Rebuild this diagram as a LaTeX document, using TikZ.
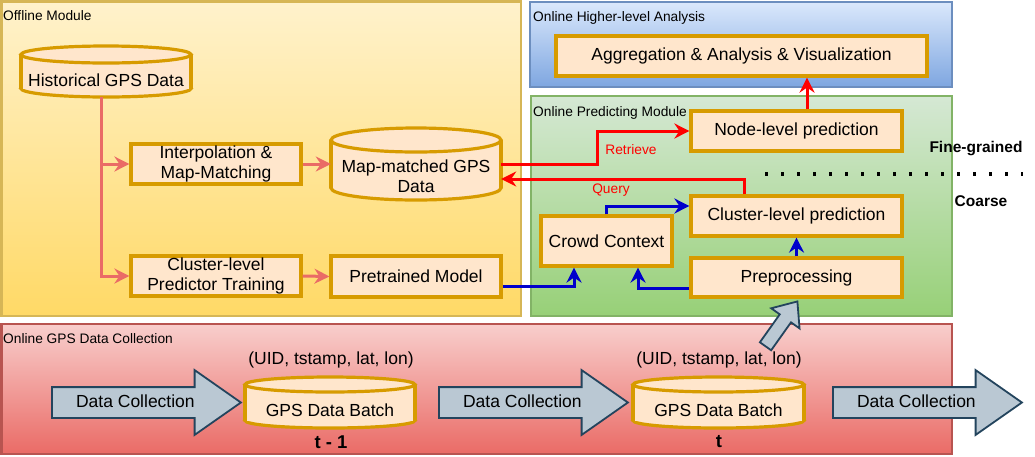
\documentclass[tikz,border=0pt]{standalone}
\usepackage{fontspec}
\setmainfont{Liberation Sans}
\usetikzlibrary{arrows.meta, shapes.arrows, positioning, calc}
\definecolor{offTop}{HTML}{FFF2CC}
\definecolor{offBot}{HTML}{FFD966}
\definecolor{offLine}{HTML}{D6B656}
\definecolor{anaTop}{HTML}{DAE8FC}
\definecolor{anaBot}{HTML}{7EA6E0}
\definecolor{anaLine}{HTML}{6C8EBF}
\definecolor{preTop}{HTML}{D5E8D4}
\definecolor{preBot}{HTML}{97D077}
\definecolor{preLine}{HTML}{82B366}
\definecolor{colTop}{HTML}{F8CECC}
\definecolor{colBot}{HTML}{EA6B66}
\definecolor{colLine}{HTML}{B85450}
\definecolor{nodeFill}{HTML}{FFE6CC}
\definecolor{nodeLine}{HTML}{D79B00}
\definecolor{arrFill}{HTML}{BAC8D3}
\definecolor{arrLine}{HTML}{23445D}
\definecolor{offArr}{HTML}{EA6B66}
\definecolor{qRed}{HTML}{FF0000}
\definecolor{qBlue}{HTML}{0000CC}
\newcommand{\bigfs}{\fontsize{17.5pt}{20pt}\selectfont}
\newcommand{\smallfs}{\fontsize{13.75pt}{16pt}\selectfont}
\tikzset{
  module/.style     = {line width=2.7pt},
  modlbl/.style     = {font=\smallfs, anchor=base west, inner sep=0pt},
  proc/.style       = {draw=nodeLine, fill=nodeFill, line width=3.2pt, align=center,
                       font=\bigfs, inner sep=0pt},
  dbcap/.style      = {draw=nodeLine, fill=nodeFill, line width=3.2pt},
  dbside/.style     = {draw=nodeLine, line width=3.2pt},
  dbbox/.style      = {rectangle, inner sep=0pt},
  dbtxt/.style      = {align=center, font=\bigfs, inner sep=0pt},
  tip/.style        = {-{Stealth[length=15pt, width=15pt, inset=5pt]}},
  offArrow/.style   = {tip, offArr, line width=3pt},
  redArrow/.style   = {tip, qRed, line width=3pt},
  blueArrow/.style  = {tip, qBlue, line width=3pt},
  flowlbl/.style    = {font=\smallfs, qRed},
  gradelbl/.style   = {font=\fontsize{15.5pt}{18pt}\selectfont\bfseries},
  gradeline/.style  = {line width=3.2pt, dash pattern=on 3.2pt off 12.8pt},
  dcarrow/.style    = {single arrow, draw=arrLine, fill=arrFill, line width=1.8pt,
                       single arrow head extend=17pt, single arrow tip angle=70,
                       minimum height=189pt, text height=12.5pt, text depth=3.5pt,
                       inner ysep=6.5pt, inner xsep=4pt, font=\bigfs, anchor=tail},
  batchlbl/.style   = {font=\bigfs},
  steplbl/.style    = {font=\fontsize{18.5pt}{20pt}\selectfont\bfseries},
}
% cylinder: name, centre x, centre y, width, height, cap radius, text
\newcommand{\gpsdb}[7]{%
  \pgfmathsetmacro\dbw{#4/2}%
  \pgfmathsetmacro\dbh{#5/2-#6}%
  \path[dbcap] (#2,#3) ++(0,\dbh) ellipse ({\dbw} and #6);
  \fill[nodeFill] (#2,#3) ++(-\dbw,-\dbh) rectangle ++({2*\dbw},{2*\dbh});
  \draw[dbside] (#2,#3) ++(-\dbw,-\dbh) -- ++(0,{2*\dbh})
                (#2,#3) ++(\dbw,-\dbh) -- ++(0,{2*\dbh});
  \path[dbcap] (#2,#3) ++(0,-\dbh) ellipse ({\dbw} and #6);
  \node[dbbox, minimum width=#4, minimum height=#5] (#1) at (#2,#3) {};
  \node[dbtxt] (#1-txt) at ([yshift=-#6pt]#1.center) {#7};
}

\begin{document}
\begin{tikzpicture}[x=1pt, y=-1pt]
  \useasboundingbox (0,0) rectangle (1035,456);

  % modules
  \draw[module, draw=offLine, top color=offTop, bottom color=offBot] (1.5,1.5) rectangle (521,316);
  \draw[module, draw=anaLine, top color=anaTop, bottom color=anaBot] (530,2) rectangle (952,87);
  \draw[module, draw=preLine, top color=preTop, bottom color=preBot] (531,96) rectangle (952,316);
  \draw[module, draw=colLine, top color=colTop, bottom color=colBot] (1.5,324) rectangle (952,454);
  \node[modlbl] (offLbl) at (3,20) {Offline Module};
  \node[modlbl] (anaLbl) at (533,21) {Online Higher-level Analysis};
  \node[modlbl] (preLbl) at (533,116) {Online Predicting Module};
  \node[modlbl] (colLbl) at (3,343) {Online GPS Data Collection};

  % offline
  \gpsdb{hist}{106}{71.5}{170}{51}{8.5}{Historical GPS Data}
  \node[proc, minimum width=170, minimum height=40] (interp) at (216,164) {Interpolation \&\\Map-Matching};
  \gpsdb{mm}{416}{164}{170}{72}{12}{Map-matched GPS\\Data}
  \node[proc, minimum width=170, minimum height=40] (train) at (216,276) {Cluster-level\\Predictor Training};
  \node[proc, minimum width=170, minimum height=41] (pm) at (416,276.5) {Pretrained Model};

  \draw[offArrow] ([xshift=-5pt]hist.south) |- (interp.west);
  \draw[offArrow] ([xshift=-5pt]hist.south) |- (train.west);
  \draw[offArrow] (interp.east) -- (mm.west);
  \draw[offArrow] (train.east) -- (pm.west);

  % online
  \node[proc, minimum width=371, minimum height=40] (agg) at (741.5,56) {Aggregation \& Analysis \& Visualization};
  \node[proc, minimum width=211, minimum height=40] (nodelvl) at (796.5,131) {Node-level prediction};
  \node[proc, minimum width=211, minimum height=40] (clus) at (796.5,216) {Cluster-level prediction};
  \node[proc, minimum width=131, minimum height=50] (crowd) at (606.5,241) {Crowd Context};
  \node[proc, minimum width=211, minimum height=39] (prep) at (796.5,277.5) {Preprocessing};

  \draw[redArrow] (mm.east) -- ++(96,0) |- (nodelvl.west);
  \draw[redArrow] ([xshift=-52.5pt]clus.north) |- ([yshift=-15pt]mm.east);
  \node[flowlbl] (retr) at (631,150) {Retrieve};
  \node[flowlbl] (query) at (611,190) {Query};
  \draw[redArrow] ([xshift=10.5pt]nodelvl.north) -- ([xshift=10.5pt]nodelvl.north |- agg.south);
  \draw[blueArrow] ([yshift=-10pt]pm.east) -| ([xshift=-32.5pt]crowd.south);
  \draw[blueArrow] ([yshift=-10.5pt]prep.west) -| ([xshift=31.5pt]crowd.south);
  \draw[blueArrow] (crowd.north) |- ([yshift=10pt]clus.west);
  \draw[blueArrow] (prep.north) -- (clus.south);

  \coordinate (gradeL) at (765,174);
  \coordinate (gradeR) at (1023,174);
  \draw[gradeline] (gradeL) -- (gradeR);
  \node[gradelbl] (fine) at (976,149) {Fine-grained};
  \node[gradelbl] (coarse) at (981,201) {Coarse};

  % data collection
  \node[dcarrow] (dc1) at (51,402.5) {Data Collection};
  \gpsdb{batch1}{330}{402.5}{170}{51}{7.5}{GPS Data Batch}
  \node[dcarrow] (dc2) at (438,402.5) {Data Collection};
  \gpsdb{batch2}{718.5}{402.5}{171}{51}{7.5}{GPS Data Batch}
  \node[dcarrow] (dc3) at (832,402.5) {Data Collection};
  \node[batchlbl] (uid1) at (331,360) {(UID, tstamp, lat, lon)};
  \node[batchlbl] (uid2) at (719,360) {(UID, tstamp, lat, lon)};
  \node[steplbl] (tprev) at (331,442) {t - 1};
  \node[steplbl] (tnow) at (719,442) {t};
  \node[single arrow, draw=arrLine, fill=arrFill, line width=1.8pt, anchor=tail,
        rotate=54.6, minimum height=55pt, inner ysep=6pt, inner xsep=0pt,
        single arrow head extend=10.5pt, single arrow tip angle=80] (toPrep) at (765,347) {};
\end{tikzpicture}
\end{document}
